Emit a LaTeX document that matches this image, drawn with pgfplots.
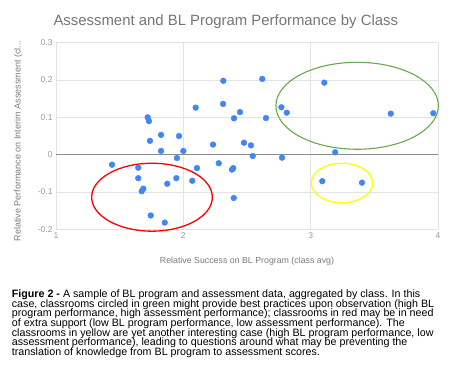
\documentclass[border=0pt]{standalone}
\usepackage{pgfplots}
\pgfplotsset{compat=1.18}
\usepackage{fontspec}
\setmainfont{Liberation Sans}
\definecolor{ptblue}{HTML}{4285F4}
\definecolor{gridgray}{HTML}{E3E3E3}
\definecolor{zerogray}{HTML}{8C8C8C}
\definecolor{tickgray}{HTML}{9A9A9A}
\definecolor{labelgray}{HTML}{7A7A7A}
\definecolor{titlegray}{HTML}{757575}
\definecolor{ellgreen}{HTML}{6AA84F}
\definecolor{ellyellow}{HTML}{FFFF00}
\begin{document}
\begin{tikzpicture}[x=1bp,y=1bp]
\useasboundingbox (0,0) rectangle (452,376);
\begin{axis}[
  at={(56bp,146.7bp)}, anchor=south west,
  scale only axis, width=382bp, height=186.6bp,
  xmin=1, xmax=4, ymin=-0.2, ymax=0.3,
  xtick={1,2,3,4}, xticklabels={1,2,3,4},
  ytick={-0.2,-0.1,0,0.1,0.2,0.3},
  yticklabels={-0.2,-0.1,0,0.1,0.2,0.3},
  grid=major, major grid style={draw=gridgray, line width=0.9bp},
  axis line style={draw=none}, tick style={draw=none},
  ticklabel style={font=\fontsize{8.5bp}{10bp}\selectfont, text=tickgray},
  /pgf/number format/assume math mode=true,
  clip=false,
]
\addplot[zerogray, line width=1.3bp, forget plot] coordinates {(1,0) (4,0)};
\addplot[only marks, mark=*, mark size=2.9bp, mark options={draw=ptblue, fill=ptblue}] table {
x y
2.314 0.198
2.620 0.203
3.107 0.193
2.312 0.136
2.097 0.126
2.445 0.114
2.398 0.0975
1.720 0.100
1.730 0.090
1.738 0.037
1.825 0.053
1.966 0.050
2.233 0.027
2.476 0.032
2.531 0.025
1.825 0.010
2.000 0.010
1.950 -0.009
2.545 -0.0035
1.440 -0.027
1.646 -0.035
2.107 -0.036
2.278 -0.023
2.382 -0.040
2.392 -0.036
1.646 -0.063
1.945 -0.063
2.070 -0.070
1.874 -0.078
1.686 -0.091
1.673 -0.098
2.396 -0.116
1.744 -0.163
1.854 -0.182
2.770 0.127
2.812 0.1125
2.649 0.098
3.629 0.110
3.963 0.111
2.775 -0.008
3.193 0.0064
3.091 -0.071
3.403 -0.075
};
\draw[red, line width=1.3bp] (axis cs:1.754,-0.114) ellipse [x radius=0.474, y radius=0.091];
\draw[ellgreen, line width=1.1bp] (axis cs:3.365,0.131) ellipse [x radius=0.638, y radius=0.1165];
\draw[ellyellow, line width=1.3bp] (axis cs:3.246,-0.076) ellipse [x radius=0.241, y radius=0.053];
\end{axis}
\node[text=titlegray, font=\fontsize{14.9bp}{17bp}\selectfont] at (225.8,354.3) {Assessment and BL Program Performance by Class};
\node[text=labelgray, font=\fontsize{8.8bp}{10bp}\selectfont] at (247,114.3) {Relative Success on BL Program (class avg)};
\node[text=labelgray, rotate=90, font=\fontsize{9bp}{10bp}\selectfont] at (18.3,235) {Relative Performance on Interim Assessment (cl...};
\begin{scope}[every node/.style={anchor=base west, inner sep=0pt, font=\fontsize{10.7bp}{11bp}\selectfont}]
\node at (11.7,78.5) {\textbf{Figure 2 -} A sample of BL program and assessment data, aggregated by class. In this};
\node at (11.7,68.8) {case, classrooms circled in green might provide best practices upon observation (high BL};
\node at (11.7,59.1) {program performance, high assessment performance); classrooms in red may be in need};
\node at (11.7,49.5) {of extra support (low BL program performance, low assessment performance). The};
\node at (11.7,39.8) {classrooms in yellow are yet another interesting case (high BL program performance, low};
\node at (11.7,30.2) {assessment performance), leading to questions around what may be preventing the};
\node at (11.7,20.5) {translation of knowledge from BL program to assessment scores.};
\end{scope}
\end{tikzpicture}
\end{document}
